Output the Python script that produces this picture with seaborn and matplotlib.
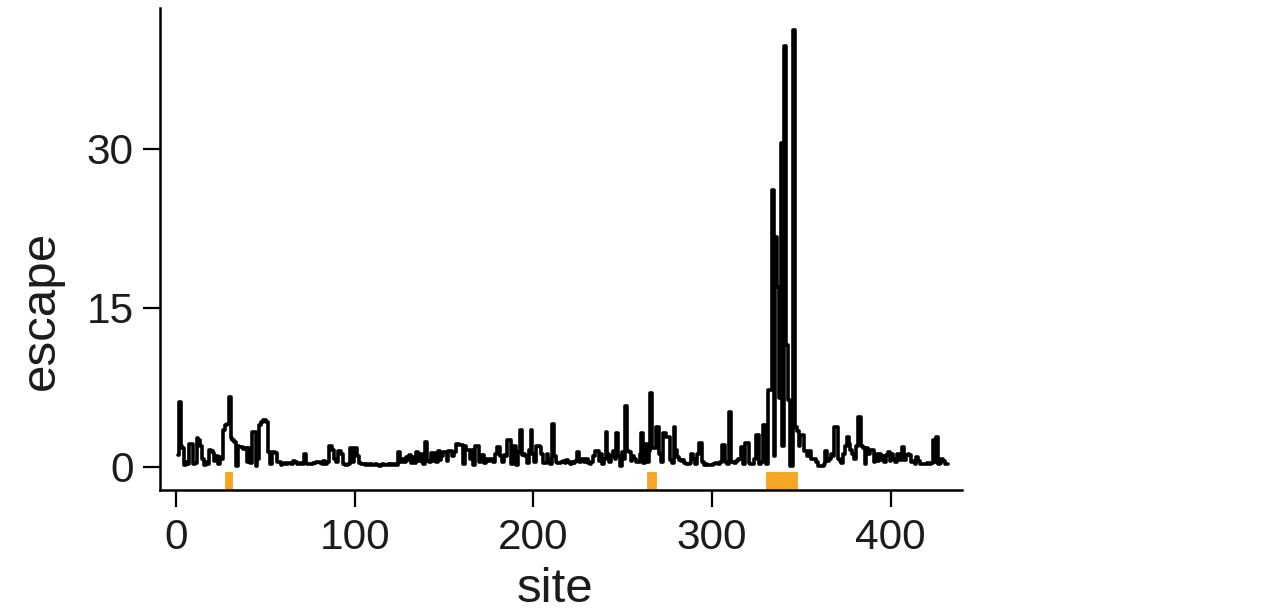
import numpy as np
import pandas as pd
import matplotlib
matplotlib.use("Agg")
import matplotlib.pyplot as plt
import seaborn as sns

# ---- data ----
first_site = 1
escape_values = [
    1.1, 6.1, 2.0, 1.8, 0.2, 0.5, 0.3, 2.2, 2.2, 0.3,   # 1-10
    0.4, 2.7, 2.5, 2.0, 0.8, 0.2, 0.5, 0.3, 1.6, 1.5,   # 11-20
    1.3, 0.6, 1.0, 0.3, 0.9, 0.8, 3.5, 4.0, 4.1, 6.6,   # 21-30
    2.7, 2.5, 2.4, 0.1, 2.0, 1.9, 1.9, 1.7, 1.8, 0.5,   # 31-40
    1.8, 0.4, 3.3, 3.3, 0.1, 0.8, 4.0, 4.2, 4.4, 4.4,   # 41-50
    4.2, 1.4, 0.3, 1.4, 1.4, 1.3, 0.5, 0.5, 0.2, 0.3,   # 51-60
    0.4, 0.3, 0.4, 0.4, 0.3, 0.6, 0.5, 0.3, 0.3, 0.4,   # 61-70
    0.3, 1.2, 0.4, 0.3, 0.3, 0.3, 0.4, 0.4, 0.5, 0.5,   # 71-80
    0.4, 0.3, 0.6, 0.3, 0.5, 2.0, 2.0, 1.6, 0.8, 0.5,   # 81-90
    1.5, 1.5, 1.2, 0.3, 0.2, 0.2, 0.3, 1.8, 0.5, 1.8,   # 91-100
    1.8, 1.0, 0.4, 0.3, 0.3, 0.2, 0.3, 0.2, 0.3, 0.2,   # 101-110
    0.2, 0.3, 0.2, 0.1, 0.2, 0.3, 0.2, 0.2, 0.3, 0.2,   # 111-120
    0.3, 0.2, 0.3, 0.2, 1.4, 0.5, 0.8, 0.5, 0.9, 0.7,   # 121-130
    1.1, 0.4, 0.9, 0.4, 1.4, 0.6, 1.2, 0.5, 0.3, 2.4,   # 131-140
    0.6, 0.5, 1.3, 0.6, 1.3, 0.5, 1.5, 0.7, 1.0, 1.4,   # 141-150
    1.4, 0.6, 1.5, 1.5, 1.0, 1.4, 2.2, 2.2, 2.1, 2.1,   # 151-160
    0.3, 2.0, 1.6, 1.6, 0.8, 1.6, 0.2, 2.0, 2.0, 0.5,   # 161-170
    1.1, 1.1, 0.4, 0.8, 0.6, 0.8, 0.8, 0.5, 1.2, 1.9,   # 171-180
    1.9, 1.0, 0.5, 1.1, 1.0, 2.5, 2.5, 0.3, 2.0, 2.0,   # 181-190
    0.2, 1.4, 3.5, 1.1, 1.2, 1.0, 0.4, 1.6, 3.5, 1.2,   # 191-200
    0.5, 2.0, 2.0, 1.9, 1.2, 0.4, 0.4, 1.2, 0.8, 0.3,   # 201-210
    4.1, 1.0, 0.5, 0.4, 0.4, 0.5, 0.6, 0.4, 0.7, 0.5,   # 211-220
    0.3, 0.5, 0.4, 0.6, 1.4, 0.5, 0.8, 0.8, 0.5, 0.8,   # 221-230
    0.4, 0.3, 0.5, 1.0, 1.5, 1.5, 0.6, 1.2, 0.3, 0.8,   # 231-240
    3.3, 1.2, 0.5, 1.0, 1.5, 0.8, 3.2, 1.0, 0.1, 1.4,   # 241-250
    0.8, 5.8, 1.5, 1.4, 0.6, 1.0, 0.8, 0.5, 0.5, 1.2,   # 251-260
    3.2, 0.4, 2.2, 0.5, 1.5, 7.0, 1.8, 1.8, 3.8, 3.8,   # 261-270
    1.2, 0.5, 3.2, 3.2, 2.8, 2.8, 0.7, 0.4, 3.8, 1.6,   # 271-280
    0.9, 0.7, 0.6, 0.7, 0.4, 0.3, 0.3, 0.4, 1.2, 0.8,   # 281-290
    0.3, 1.2, 2.3, 2.3, 0.5, 0.2, 0.3, 0.2, 0.2, 0.2,   # 291-300
    0.3, 0.4, 0.4, 0.3, 0.5, 2.1, 2.1, 0.5, 0.3, 5.2,   # 301-310
    0.5, 0.5, 0.4, 0.6, 0.8, 0.8, 1.9, 0.3, 2.3, 2.3,   # 311-320
    0.4, 0.3, 0.3, 0.8, 3.0, 3.0, 0.3, 0.5, 4.0, 4.0,   # 321-330
    0.3, 7.3, 7.3, 26.1, 1.0, 21.7, 17.0, 6.5, 30.6, 2.0,  # 331-340
    39.7, 11.5, 6.3, 0.1, 0.1, 41.2, 3.8, 3.4, 2.0, 3.0,   # 341-350
    3.0, 1.5, 1.5, 1.0, 1.5, 0.8, 0.8, 0.8, 0.5, 0.1,   # 351-360
    0.1, 0.1, 0.3, 1.5, 0.6, 0.8, 1.2, 1.0, 3.8, 3.8,   # 361-370
    0.8, 0.6, 0.4, 1.2, 2.0, 2.8, 2.2, 1.6, 1.2, 0.8,   # 371-380
    2.0, 4.7, 4.7, 2.0, 1.8, 0.3, 1.8, 1.2, 1.6, 1.6,   # 381-390
    0.5, 1.2, 0.6, 1.2, 0.7, 1.0, 0.5, 1.1, 1.4, 0.6,   # 391-400
    1.2, 0.8, 0.5, 1.2, 1.2, 0.7, 1.9, 0.7, 1.1, 1.2,   # 401-410
    1.1, 0.5, 0.6, 0.3, 0.9, 0.6, 0.3, 0.3, 0.3, 0.3,   # 411-420
    0.4, 0.3, 0.4, 2.5, 0.5, 2.8, 0.3, 0.4, 0.8, 0.6,   # 421-430
    0.3, 0.3,                                           # 431-432
]
sites = list(range(first_site, first_site + len(escape_values)))

# highlighted sites (orange marks under the line)
highlight_sites = [28, 29, 30, 31] + list(range(264, 269)) + list(range(331, 348))

x_ticks = [0, 100, 200, 300, 400]
y_ticks = [0, 15, 30]
x_label = "site"
y_label = "escape"

df = pd.DataFrame({"site": sites, "escape": escape_values})

# ---- style ----
sns.set_theme(style="ticks")
plt.rcParams["font.family"] = ["Liberation Sans", "DejaVu Sans"]
plt.rcParams["text.color"] = "#1c1c1c"
plt.rcParams["xtick.labelcolor"] = "#1c1c1c"
plt.rcParams["ytick.labelcolor"] = "#1c1c1c"
plt.rcParams["axes.labelcolor"] = "#1c1c1c"

fig = plt.figure(figsize=(12.74, 6.11), dpi=100)
ax = fig.add_axes([160 / 1274, 1 - 490 / 611, (962 - 160) / 1274, (490 - 8) / 611])

ax.bar(highlight_sites, [1.6] * len(highlight_sites), bottom=-2.08, width=1.0,
       color="#F5A623", edgecolor="#F5A623", linewidth=0.6, zorder=1)

sns.lineplot(data=df, x="site", y="escape", ax=ax, color="black",
             linewidth=2.6, drawstyle="steps-mid", zorder=3)

ax.set_xlim(-9, 440)
ax.set_ylim(-2.17, 43.3)
ax.set_xticks(x_ticks)
ax.set_yticks(y_ticks)
ax.set_xlabel(x_label, fontsize=35.5, labelpad=7)
ax.set_ylabel(y_label, fontsize=35.5, labelpad=16)
ax.xaxis.label.set_x(0.4925)
ax.yaxis.label.set_y(0.373)
ax.tick_params(axis="both", labelsize=30.5, length=12, width=1.6, color="black")
ax.tick_params(axis="x", pad=8)
ax.tick_params(axis="y", pad=7)
for s in ["left", "bottom"]:
    ax.spines[s].set_linewidth(1.8)
    ax.spines[s].set_color("black")
sns.despine(ax=ax)

fig.savefig("out.png", dpi=100)
